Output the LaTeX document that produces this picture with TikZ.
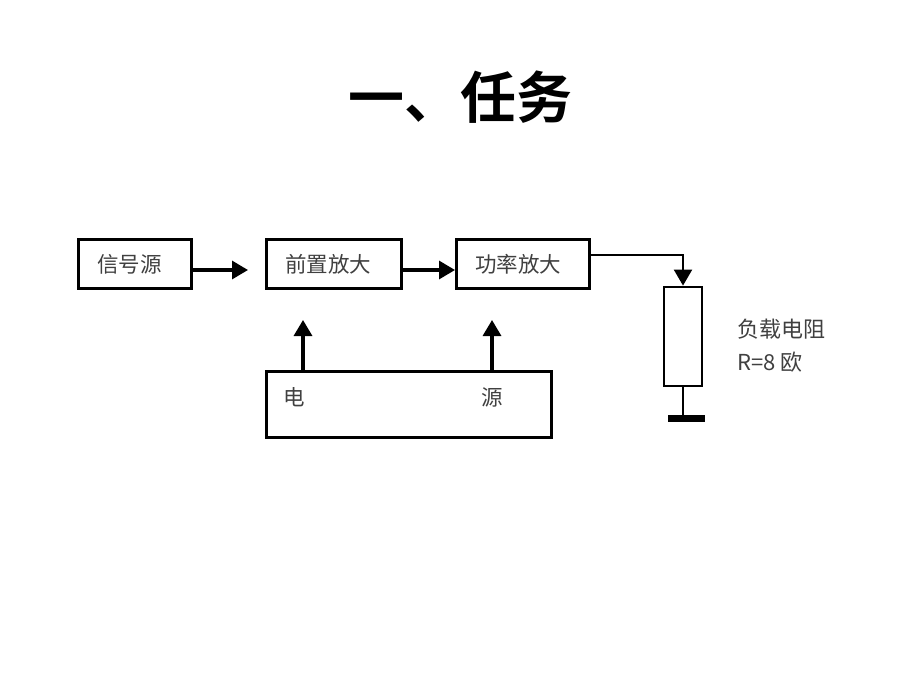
\documentclass[tikz,border=0pt]{standalone}
\usepackage{fontspec}
\newfontfamily\cjk{Noto Sans CJK SC}
\newfontfamily\cjkbold{Noto Sans CJK SC Bold}
\usetikzlibrary{arrows.meta}
\begin{document}
\begin{tikzpicture}[x=1pt,y=-1pt,
  blk/.style={draw,line width=2.8pt,minimum height=49pt,inner xsep=19pt,inner ysep=0pt,align=left,font=\cjk\fontsize{21.5}{24}\selectfont,text=black!75},
  lbl/.style={font=\cjk\fontsize{21.5}{24}\selectfont,text=black!75,inner sep=0pt},
  wire/.style={line width=3.2pt},
  arr/.style={wire,-{Triangle[length=16pt,width=18pt]}}]
\useasboundingbox (0,0) rectangle (920,690);
\node[font=\cjkbold\fontsize{56}{62}\selectfont] (title) at (460,97) {一、任务};
\node[blk,text width=75pt,anchor=north west] (sig) at (77,238) {信号源};
\node[blk,text width=97pt,anchor=north west] (pre) at (265,238) {前置放大};
\node[blk,text width=95pt,anchor=north west] (amp) at (455,238) {功率放大};
\node[draw,line width=2.8pt,minimum width=285pt,minimum height=66pt,anchor=north west] (pwr) at (265,370) {};
\node[lbl] (pwrl) at (294,397) {电};
\node[lbl] (pwrr) at (492,397) {源};
\node[draw,line width=2.8pt,minimum width=38pt,minimum height=99pt,inner sep=0pt] (res) at (683,336.5) {};
\node[lbl,align=left,anchor=west,font=\cjk\fontsize{22}{33}\selectfont] (resl) at (737,346) {负载电阻\\R=8 欧};
\coordinate (gnd) at (683,418);
\coordinate (pa) at (303,320);
\coordinate (pb) at (492,320);
\coordinate (sa) at (248,270);
\draw[arr] (sig.east |- sa) -- (sa);
\draw[arr] (pre.east |- 0,270) -- (amp.west |- 0,270);
\draw[arr,line width=2.2pt] (amp.east |- 0,255) -| (res.north);
\draw[arr] (pwr.north -| pa) -- (pa);
\draw[arr] (pwr.north -| pb) -- (pb);
\draw[wire,line width=2.4pt] (res.south) -- (gnd);
\fill (668,415) rectangle (705,422);
\end{tikzpicture}
\end{document}
